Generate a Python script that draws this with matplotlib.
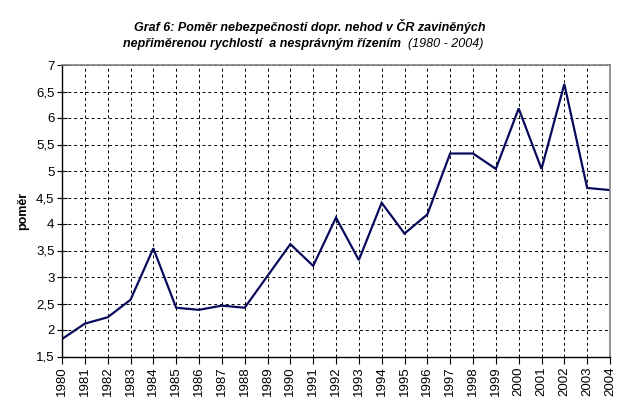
import matplotlib
matplotlib.use("Agg")
import matplotlib.pyplot as plt
from matplotlib.ticker import FuncFormatter

plt.rcParams["font.family"] = ["Liberation Sans", "DejaVu Sans"]

years = list(range(1980, 2005))
ratio = [1.83, 2.12, 2.24, 2.57, 3.54, 2.42, 2.38, 2.46, 2.42, 3.02,
         3.62, 3.21, 4.12, 3.32, 4.40, 3.82, 4.18, 5.33, 5.33, 5.04,
         6.18, 5.04, 6.64, 4.68, 4.64]
y_ticks = [1.5, 2, 2.5, 3, 3.5, 4, 4.5, 5, 5.5, 6, 6.5, 7]

fig = plt.figure(figsize=(6.24, 4.01), dpi=100)
ax = fig.add_axes([62 / 624, 1 - 356.5 / 401, 548 / 624, 291.5 / 401])

ax.plot(years, ratio, color="#0a0a5c", lw=1.6, solid_joinstyle="miter")

ax.set_xlim(1980, 2004)
ax.set_ylim(1.5, 7)
ax.set_xticks(years)
ax.set_xticklabels([str(y) for y in years], rotation=90, fontsize=9.5)
ax.set_yticks(y_ticks)
ax.yaxis.set_major_formatter(FuncFormatter(lambda v, p: f"{v:g}".replace(".", ",")))
ax.tick_params(axis="y", labelsize=9.5, length=7, width=0.8, pad=2, direction="inout")
ax.tick_params(axis="x", length=5, width=0.8, pad=2)

ax.grid(True, color="black", lw=0.7, linestyle=(0, (3, 3)))
ax.set_axisbelow(True)

for s in ["top", "right"]:
    ax.spines[s].set_color("#808080")
    ax.spines[s].set_linewidth(1.2)
for s in ["left", "bottom"]:
    ax.spines[s].set_color("black")
    ax.spines[s].set_linewidth(1.0)

ax.set_ylabel("poměr", fontsize=9, fontweight="bold", labelpad=5)

fig.text(310 / 624, 1 - 26 / 401,
         "Graf 6: Poměr nebezpečnosti dopr. nehod v ČR zaviněných",
         ha="center", va="center", fontsize=9, fontweight="bold", style="italic")
t2 = fig.text(123 / 624, 1 - 44 / 401,
              "nepřiměrenou rychlostí  a nesprávným řízením",
              ha="left", va="center", fontsize=9, fontweight="bold", style="italic")
ax.annotate("  (1980 - 2004)", xy=(1, 0), xycoords=t2, ha="left", va="bottom",
            fontsize=9, style="italic", annotation_clip=False)

fig.savefig("out.png", dpi=100)
